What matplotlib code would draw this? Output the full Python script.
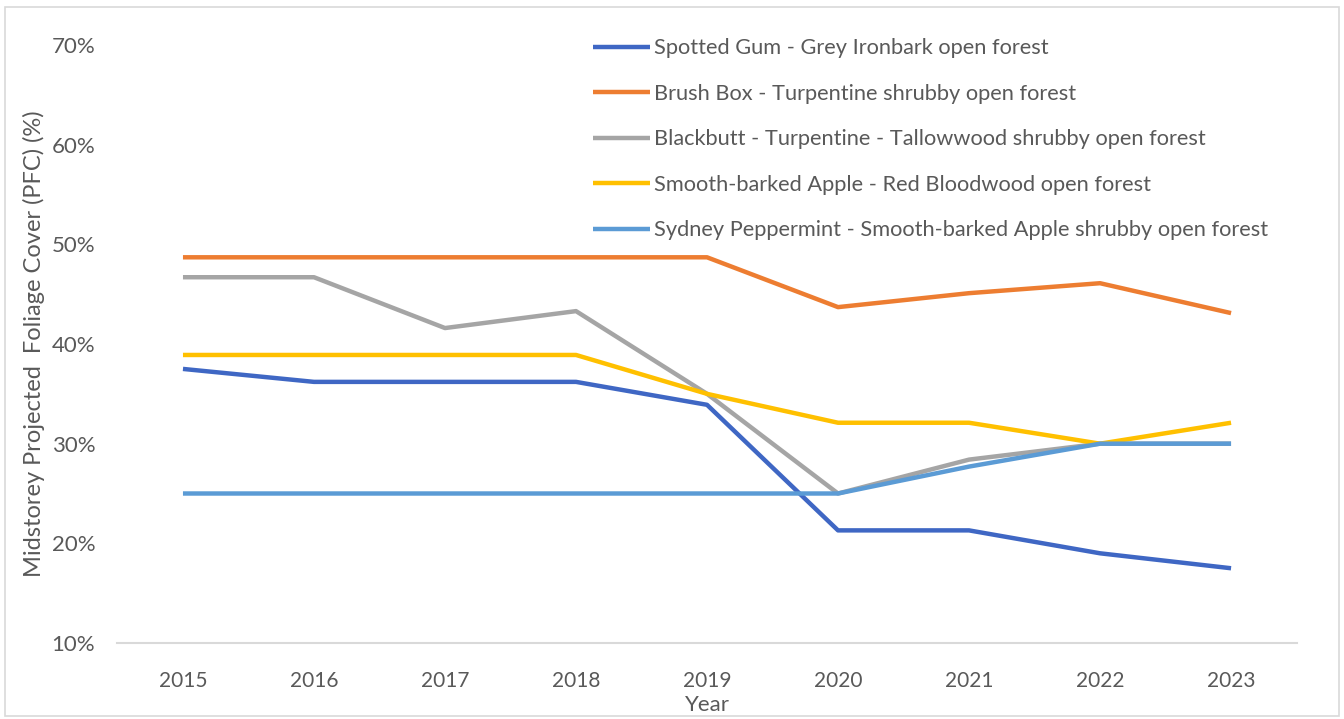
import numpy as np
import matplotlib.pyplot as plt
from matplotlib.patches import Rectangle
from matplotlib.ticker import PercentFormatter

plt.rcParams['font.family'] = ['Lato', 'DejaVu Sans']

# ---------------------------------------------------------------
# data (percent)
# ---------------------------------------------------------------
years = [2015, 2016, 2017, 2018, 2019, 2020, 2021, 2022, 2023]

spotted_gum = [37.5, 36.2, 36.2, 36.2, 33.9, 21.3, 21.3, 19.0, 17.5]
brush_box = [48.7, 48.7, 48.7, 48.7, 48.7, 43.7, 45.1, 46.1, 43.1]
blackbutt = [46.7, 46.7, 41.6, 43.3, 35.0, 25.0, 28.4, 30.0, 30.0]
smooth_apple = [38.9, 38.9, 38.9, 38.9, 35.0, 32.1, 32.1, 30.0, 32.1]
sydney_pepp = [25.0, 25.0, 25.0, 25.0, 25.0, 25.0, 27.7, 30.0, 30.0]

labels = [
    "Spotted Gum - Grey Ironbark open forest",
    "Brush Box - Turpentine shrubby open forest",
    "Blackbutt - Turpentine - Tallowwood shrubby open forest",
    "Smooth-barked Apple - Red Bloodwood open forest",
    "Sydney Peppermint - Smooth-barked Apple shrubby open forest",
]
colors = ["#3F67C4", "#ED7D31", "#A5A5A5", "#FFC000", "#5B9BD5"]
series = [spotted_gum, brush_box, blackbutt, smooth_apple, sydney_pepp]

TEXT = "#595959"

fig = plt.figure(figsize=(13.44, 7.19), dpi=100)
ax = fig.add_axes([0.0874, 0.1057, 0.8773, 0.8317])

x = np.arange(len(years))
for vals, lab, col in zip(series, labels, colors):
    ax.plot(x, vals, color=col, lw=3.2, label=lab, solid_capstyle="butt")

ax.set_xlim(-0.5, len(years) - 0.5)
ax.set_ylim(10, 70)
ax.set_yticks(np.arange(10, 71, 10))
ax.yaxis.set_major_formatter(PercentFormatter(decimals=0))
ax.set_xticks(x)
ax.set_xticklabels([str(y) for y in years])

for side in ["top", "right", "left"]:
    ax.spines[side].set_visible(False)
ax.spines["bottom"].set_color("#D9D9D9")
ax.spines["bottom"].set_linewidth(1.5)
ax.tick_params(axis="both", length=0, labelsize=15, colors=TEXT)
ax.tick_params(axis="y", labelsize=16, pad=16)
ax.tick_params(axis="x", pad=20)

ax.set_xlabel("Year", fontsize=16, color=TEXT, labelpad=3)
ax.set_ylabel("Midstorey Projected  Foliage Cover (PFC) (%)", fontsize=17,
              color=TEXT, labelpad=5)

ax.legend(loc="upper left", bbox_to_anchor=(0.435, 0.959),
          bbox_transform=fig.transFigure, frameon=False, fontsize=15.7,
          labelcolor=TEXT, handlelength=2.6, handletextpad=0.2,
          labelspacing=1.17, borderaxespad=0)

# light chart-area border
fig.patches.append(Rectangle((0.004, 0.004), 0.992, 0.986,
                             transform=fig.transFigure, fill=False,
                             edgecolor="#D9D9D9", lw=1.2))

fig.savefig("out.png", dpi=100)
